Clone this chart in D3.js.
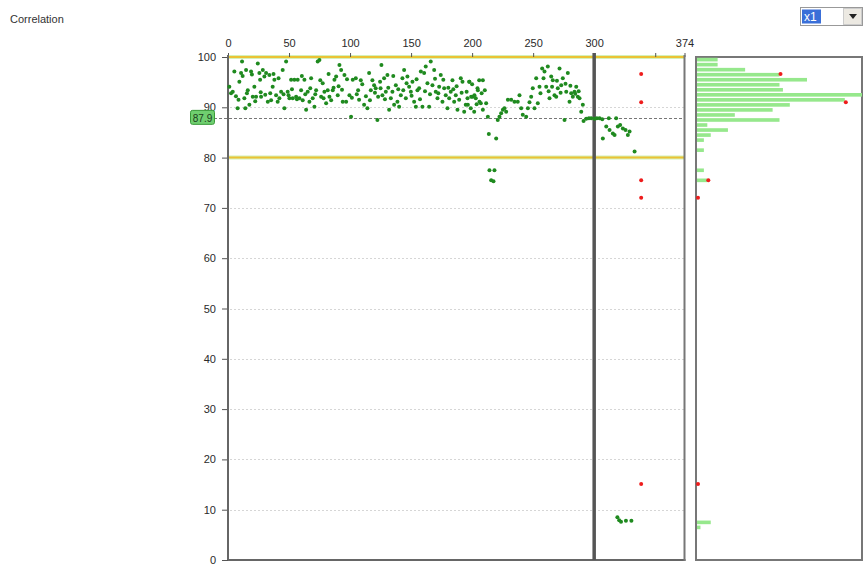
<!DOCTYPE html>
<html><head><meta charset="utf-8">
<script src="https://cdn.jsdelivr.net/npm/d3@7"></script>
<style>
html,body{margin:0;padding:0;background:#fff;}
svg{display:block;font-family:"Liberation Sans",Arial,sans-serif;}
</style></head>
<body><svg id="chart" width="864" height="568"></svg>
<script>
// ---------- data ----------
const title = "Correlation";
const selectorLabel = "x1";
const xTicks = [0, 50, 100, 150, 200, 250, 300, 350, 374];
const xTickLabels = ["0", "50", "100", "150", "200", "250", "300", "", "374"];
const yTicks = [0, 10, 20, 30, 40, 50, 60, 70, 80, 90, 100];
const limitLines = [100, 80];
const meanValue = 87.9;
const splitAt = 300;
const xMax = 374;

// scatter points: [index, correlation]
const pointsA = [[1.1,94.1],[3.9,93.1],[5.2,97.1],[7.9,89.8],[9.3,95.1],[10.7,96.8],[11.5,99.1],[13.4,91.8],[14.2,89.8],[14.8,97.4],[16.2,93.4],[17.5,90.5],[18.9,97.1],[20.3,92.1],[21.6,94.1],[23,92.1],[24.4,98.7],[25.7,96.8],[26.3,95.5],[27.1,92.1],[28.5,97.4],[29.8,96.1],[31.2,96.8],[32.6,91.1],[33.9,96.4],[35.3,91.4],[36.6,94.1],[38,95.5],[39.4,92.4],[40.7,91.1],[42.1,91.8],[43.5,93.1],[44.8,97.4],[46.2,89.8],[47.6,99.1],[48.9,93.1],[50.3,91.8],[51.7,95.5],[53,91.8],[54.4,95.5],[55.8,92.1],[57.1,95.5],[58.5,91.8],[59.9,93.4],[61.2,91.4],[62.6,95.5],[64,89.5],[65.3,93.1],[66.7,91.1],[68.1,95.8],[69.4,91.8],[70.8,90.1],[72.2,93.4],[73.5,99.1],[74.9,99.4],[76.3,92.1],[77.6,94.8],[79,93.1],[80.4,90.8],[81.7,93.4],[83.1,92.1],[84.5,91.4],[85.8,93.4],[87.2,95.5],[88.6,96.1],[89.9,92.4],[91.3,98.4],[92.7,97.4],[94,91.1],[95.4,96.4],[96.8,91.1],[99.5,92.4],[100.8,88.1],[102.2,95.5]];
const pointsB = [[104.7,95.8],[106.6,93.4],[107.4,91.5],[108.8,95.4],[111.5,90.5],[114.2,89.8],[115.6,96.8],[117,93.4],[118.3,95.4],[119.7,94.4],[121,93.8],[122.4,87.5],[123,92.1],[124.6,95.1],[125.7,98.4],[126.5,92.4],[127.9,95.8],[129.3,93.1],[130.6,96.4],[132,89.5],[133.4,91.8],[134.7,93.1],[136.1,90.5],[137.5,94.4],[138.8,91.1],[140.2,90.1],[141.6,92.4],[142.9,95.8],[144.3,97.4],[145.7,91.8],[147,96.1],[148.4,94.1],[149.8,93.1],[151.1,95.1],[152.5,91.1],[153.9,90.1],[155.2,93.4],[156.6,93.8],[158,97.1],[159.3,90.1],[160.7,96.8],[162,98.1],[163.4,94.8],[164.8,90.1],[166.1,99.1],[167.5,94.4],[168.9,97.4],[170.2,93.1],[171.6,91.8],[173,94.1],[174.3,96.4],[175.7,91.1],[177.1,93.8],[178.4,92.4],[179.8,89.8],[181.2,91.8],[182.5,93.1],[183.9,95.4],[185.3,91.1],[186.6,92.4],[188,89.5],[189.4,91.5],[190.7,95.8],[192.1,95.1],[193.5,89.1],[194.8,90.5],[196.2,91.8],[197.6,95.1],[198.9,89.8],[200.3,92.1],[201.7,89.1],[203,91.8],[204.4,93.8],[205.8,95.4],[207.1,90.8]];
const pointsC = [[197.8,95.1],[199.2,92.1],[196.5,90.5],[201.9,92.4],[204.7,93.4],[206,91.1],[208.8,95.4],[208.8,89.5],[211.5,90.8],[212.9,88.1],[213.7,84.7],[219.7,83.8],[214.2,77.5],[218.3,77.5],[215.6,75.5],[217.5,75.3],[221,87.5],[222.4,88.1],[223.8,88.8],[225.2,89.5],[226.5,89.8],[227.9,89.1],[229.3,91.5],[232,91.5],[234.7,91.1],[237.4,91.1],[238.8,92.4],[240.2,89.8],[241.5,88.5],[244.3,88.1],[245.7,89.8],[248.4,92.1],[249.7,93.8],[251.1,89.8],[252.5,95.8],[253.8,90.8],[255.2,94.1],[257.4,97.7],[259.3,97.1],[260.7,94.1],[262,98.1],[263.4,91.8],[264.8,96.1],[266.1,95.4],[267.5,92.4],[268.9,92.1],[270.2,93.8],[271.6,97.7],[273,94.4],[274.3,95.8],[275.7,87.5],[277.1,93.1],[278.4,96.8],[279.8,91.1],[281.2,92.8],[282.5,92.1],[283.9,93.1],[285.3,94.1],[286.6,92.1],[288,91.8],[289.4,89.1],[290.7,90.5]];
const pointsD = [[291.3,87.3],[293.5,87.7],[295.7,87.8],[297.6,87.8],[300.3,87.7],[302.2,87.8],[304.4,87.8],[306.6,87.6],[307.1,83.8],[309.9,86.2],[312,87.8],[312.6,85.5],[315.3,84.8],[316.7,84.5],[318,87.8],[319.4,86.2],[321.3,86.5],[323.5,85.8],[325.7,85.5],[327.6,84.5],[329,85.2],[333.1,81.2],[319,8.5],[320.5,7.9],[322,7.6],[326,7.8],[330.5,7.8]];
const pointsExtra = [[2.5,92.8],[6.5,92.2],[8.6,91.5],[12,96.2],[15.5,92.8],[19.6,96.5],[22.3,91.2],[26.8,93],[30.5,92.5],[34.6,92.8],[37.3,96.6],[41.4,95.8],[45.5,92.6],[49.6,92.4],[52.4,93.6],[56.5,91.6],[60.5,96.2],[63.3,92.6],[67.4,93.8],[71.5,92.6],[75.6,95.4],[78.3,91.8],[82.4,96.6],[86.5,93.9],[90.6,94.2],[93.4,93.5],[97.5,95.6],[101.5,91.9],[105.5,92.6],[110,94.6],[113,92.2],[116.3,91.4],[120.4,92.9],[125,93.8],[128.6,91.6],[131.3,93.9],[135.4,96.2],[139.5,93.6],[143.6,93.4],[146.3,94.8],[150.4,92.3],[154.5,95.6],[157.3,91.6],[161.4,93.2],[165.5,92.6],[169.6,95.7],[172.3,92.8],[176.4,95.5],[180.5,93.9],[184.6,93.6],[187.3,94.2],[191.4,92.9],[195.5,93.1],[200,94.6],[203.7,90.6],[207.8,92.8],[210.4,93.4],[247,91],[256,92.8],[258.5,95.8],[262.7,93.2],[265.5,94.1],[269.5,95.3],[272.5,92.9],[276.5,94.7],[280.5,94.3],[284.5,92.7],[287.3,93.2]];
const newPointIndex = 338.5;
const newPointValues = [96.6, 91, 75.5, 72, 15.1];

// histogram (bin lower edge, count)
const histBins   = [99, 98, 97, 96, 95, 94, 93, 92, 91, 90, 89, 88, 87, 86, 85, 84, 83, 81, 77, 75, 7, 6];
const histCounts = [6, 6, 14, 24, 32, 24, 25, 48, 43, 27, 22, 11, 24, 3, 9, 4, 2, 2, 2, 3, 4, 1];

// ---------- drawing ----------
const svg = d3.select("#chart");
const x = d3.scaleLinear().domain([0, xMax]).range([228, 684.5]);
const y = d3.scaleLinear().domain([0, 100]).range([560, 57]);
const hx = d3.scaleLinear().domain([0, 48]).range([697, 862]);
const green = "#1f8a1f", red = "#ee1c1c";
const txt = "#2a2a2a";

// title
svg.append("text").attr("x", 10).attr("y", 23).attr("font-size", 11).attr("fill", "#333").text(title);

// selector
const sel = svg.append("g");
sel.append("rect").attr("x", 800.5).attr("y", 7.5).attr("width", 62).attr("height", 18).attr("fill", "#fff").attr("stroke", "#999");
sel.append("rect").attr("x", 802).attr("y", 9.5).attr("width", 19).attr("height", 14).attr("fill", "#3a6fd8");
sel.append("text").attr("x", 804).attr("y", 21).attr("font-size", 12).attr("fill", "#fff").text(selectorLabel);
sel.append("rect").attr("x", 843.5).attr("y", 8.5).attr("width", 18).attr("height", 16).attr("fill", "#ece9e2").attr("stroke", "#ccc");
sel.append("path").attr("d", "M849,14 L857,14 L853,19 Z").attr("fill", "#222");

// grid lines
svg.append("g").selectAll("line").data(yTicks.filter(v => v > 0 && !limitLines.includes(v))).join("line")
  .attr("x1", x(0) + 2).attr("x2", x(xMax)).attr("y1", d => Math.round(y(d)) + 0.5).attr("y2", d => Math.round(y(d)) + 0.5)
  .attr("stroke", "#d6d6d6").attr("stroke-width", 1).attr("stroke-dasharray", "2,2");

// mean line
svg.append("line").attr("x1", 214).attr("x2", x(xMax)).attr("y1", Math.round(y(meanValue)) + 0.5).attr("y2", Math.round(y(meanValue)) + 0.5)
  .attr("stroke", "#777").attr("stroke-width", 1).attr("stroke-dasharray", "3,2");

// limit lines
const lim = svg.append("g").selectAll("g").data(limitLines).join("g");
lim.append("line").attr("x1", x(0)).attr("x2", x(xMax)).attr("y1", d => y(d)).attr("y2", d => y(d))
  .attr("stroke", "#d4f2b8").attr("stroke-width", 4);
lim.append("line").attr("x1", x(0)).attr("x2", x(xMax)).attr("y1", d => y(d)).attr("y2", d => y(d))
  .attr("stroke", "#ebc235").attr("stroke-width", 2);

// left axis
const yAxis = d3.axisLeft(y).tickValues(yTicks).tickSize(6).tickPadding(6);
const ya = svg.append("g").attr("transform", `translate(${x(0)},0)`).attr("color", txt).call(yAxis);
ya.select(".domain").remove();
ya.selectAll(".tick line").attr("stroke", "#555");
ya.selectAll(".tick text").attr("font-size", 11).attr("font-family", "Liberation Sans, Arial, sans-serif");

// top axis
const xAxis = d3.axisTop(x).tickValues(xTicks).tickFormat((d, i) => xTickLabels[i]).tickSize(4).tickPadding(6);
const xa = svg.append("g").attr("transform", `translate(0,${y(100)})`).attr("color", txt).call(xAxis);
xa.select(".domain").remove();
xa.selectAll(".tick line").attr("stroke", "#555");
xa.selectAll(".tick text").attr("font-size", 11).attr("font-family", "Liberation Sans, Arial, sans-serif");

// frame of main plot
svg.append("line").attr("x1", x(0)).attr("x2", x(0)).attr("y1", y(100) - 2).attr("y2", y(0)).attr("stroke", "#666").attr("stroke-width", 2);
svg.append("line").attr("x1", x(0)).attr("x2", x(xMax) + 1).attr("y1", y(0)).attr("y2", y(0)).attr("stroke", "#666").attr("stroke-width", 2);
svg.append("line").attr("x1", x(xMax)).attr("x2", x(xMax)).attr("y1", y(100) - 2).attr("y2", y(0) + 1).attr("stroke", "#777").attr("stroke-width", 2);
// split line
svg.append("line").attr("x1", x(splitAt)).attr("x2", x(splitAt)).attr("y1", y(100) - 4).attr("y2", y(0)).attr("stroke", "#555").attr("stroke-width", 3.5);

// mean label
svg.append("rect").attr("x", 190.5).attr("y", y(meanValue) - 7.5).attr("width", 24).attr("height", 14).attr("rx", 2)
  .attr("fill", "#6fcf6f").attr("stroke", "#3a9a3a");
svg.append("text").attr("x", 202.5).attr("y", y(meanValue) + 4).attr("text-anchor", "middle").attr("font-size", 10).attr("fill", "#1d3d1d").text(meanValue.toFixed(1));

// scatter points
const allPts = pointsA.concat(pointsB, pointsC, pointsD, pointsExtra);
svg.append("g").selectAll("circle").data(allPts).join("circle")
  .attr("cx", d => x(d[0])).attr("cy", d => y(d[1])).attr("r", 2).attr("fill", green);
svg.append("g").selectAll("circle").data(newPointValues).join("circle")
  .attr("cx", x(newPointIndex)).attr("cy", d => y(d)).attr("r", 2).attr("fill", red);

// histogram panel
svg.append("rect").attr("x", 696).attr("y", y(100)).attr("width", 166).attr("height", y(0) - y(100))
  .attr("fill", "#fff").attr("stroke", "#777").attr("stroke-width", 2);
svg.append("g").selectAll("rect").data(histBins.map((b, i) => ({b, c: histCounts[i]}))).join("rect")
  .attr("x", hx(0)).attr("y", d => y(d.b + 1) + 0.8).attr("width", d => hx(d.c) - hx(0)).attr("height", d => y(d.b) - y(d.b + 1) - 1.4)
  .attr("fill", "#96e88c");
const countFor = v => { const i = histBins.indexOf(Math.floor(v)); return i < 0 ? 0 : histCounts[i]; };
svg.append("g").selectAll("circle").data(newPointValues).join("circle")
  .attr("cx", d => hx(countFor(d)) + 1).attr("cy", d => y(d)).attr("r", 2).attr("fill", red);
</script></body></html>
